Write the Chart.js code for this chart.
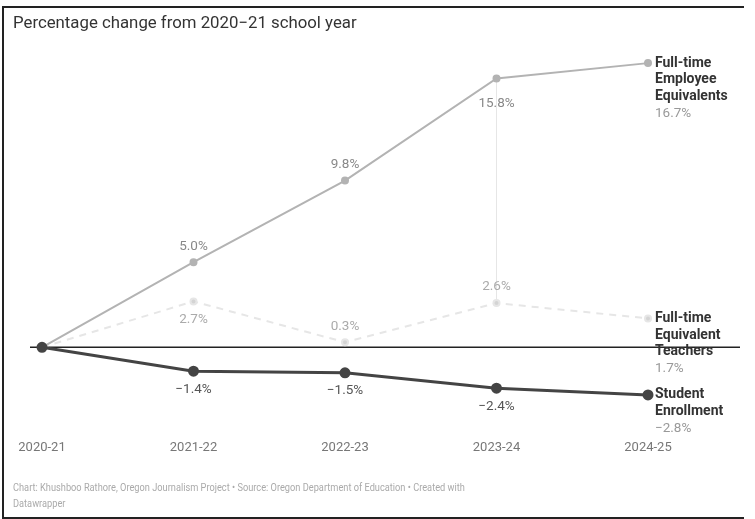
<!DOCTYPE html>
<html>
<head>
<meta charset="utf-8">
<script src="https://cdn.jsdelivr.net/npm/chart.js@4"></script>
<style>
  html, body { margin: 0; padding: 0; background: #fff; }
  body { width: 755px; height: 519px; position: relative; overflow: hidden; font-family: Roboto, sans-serif; }
  #frame { position: absolute; left: 2px; top: 6px; width: 740px; height: 509px;
    border-left: 2px solid #222; border-top: 2px solid #222; border-bottom: 2px solid #222; }
  #title { position: absolute; left: 13px; top: 12px; font-size: 16.8px; color: #333; }
  #footer { position: absolute; left: 13px; top: 480px; width: 565px; font-size: 11px; line-height: 16px; color: #aaa;
    transform: scaleX(0.84); transform-origin: left top; }
  #wrap { position: absolute; left: 0; top: 0; width: 755px; height: 519px; }
</style>
</head>
<body>
<div id="frame"></div>
<div id="wrap"><canvas id="chart"></canvas></div>
<div id="title">Percentage change from 2020−21 school year</div>
<div id="footer">Chart: Khushboo Rathore, Oregon Journalism Project • Source: Oregon Department of Education • Created with Datawrapper</div>
<script>
const categories = ["2020-21", "2021-22", "2022-23", "2023-24", "2024-25"];
const employeeValues = [0, 5.0, 9.8, 15.8, 16.7];
const teacherValues = [0, 2.7, 0.3, 2.6, 1.7];
const enrollmentValues = [0, -1.4, -1.5, -2.4, -2.8];
const employeeName = ["Full-time", "Employee", "Equivalents"];
const teacherName = ["Full-time", "Equivalent", "Teachers"];
const enrollmentName = ["Student", "Enrollment"];

function fmt(v) {
  return (v < 0 ? "\u2212" : "") + Math.abs(v).toFixed(1) + "%";
}

// zero baseline + faint connector at 2023-24
const baseline = {
  id: "baseline",
  beforeDatasetsDraw(chart) {
    const ctx = chart.ctx, y = chart.scales.y, x = chart.scales.x;
    const y0 = y.getPixelForValue(0);
    ctx.save();
    ctx.strokeStyle = "#e6e6e6";
    ctx.lineWidth = 1;
    const xi = x.getPixelForValue(3);
    ctx.beginPath();
    ctx.moveTo(xi, y.getPixelForValue(employeeValues[3]));
    ctx.lineTo(xi, y.getPixelForValue(teacherValues[3]));
    ctx.stroke();
    ctx.strokeStyle = "#222";
    ctx.lineWidth = 1.5;
    ctx.beginPath();
    ctx.moveTo(chart.chartArea.left - 12, y0);
    ctx.lineTo(chart.width - 15, y0);
    ctx.stroke();
    ctx.restore();
  }
};

// value labels and end labels
const offsets = { above: -16, below: 18, farBelow: 25 };
const labels = {
  id: "labels",
  afterDatasetsDraw(chart) {
    const ctx = chart.ctx;
    ctx.save();
    ctx.textBaseline = "middle";
    chart.data.datasets.forEach((ds, di) => {
      const pts = chart.getDatasetMeta(di).data;
      ctx.font = "13.5px Roboto";
      ctx.textAlign = "center";
      ctx.fillStyle = ds.labelColor;
      for (let i = 1; i < pts.length - 1; i++) {
        ctx.fillText(fmt(ds.data[i]), pts[i].x, pts[i].y + offsets[ds.labelPos[i]]);
      }
      const last = pts[pts.length - 1];
      ctx.textAlign = "left";
      let ly = last.y;
      ctx.font = "bold 14px Roboto";
      ctx.fillStyle = "#333";
      ds.endName.forEach(line => {
        ctx.fillText(line, last.x + 7, ly);
        ly += 16.8;
      });
      ctx.font = "13.5px Roboto";
      ctx.fillStyle = "#999";
      ctx.fillText(fmt(ds.data[ds.data.length - 1]), last.x + 7, ly);
    });
    ctx.restore();
  }
};

new Chart(document.getElementById("chart"), {
  type: "line",
  data: {
    labels: categories,
    datasets: [
      {
        label: "Student Enrollment",
        data: enrollmentValues,
        borderColor: "#444",
        backgroundColor: "#444",
        borderWidth: 3,
        pointRadius: 4,
        pointHoverRadius: 4,
        labelColor: "#555",
        labelPos: ["", "below", "below", "below", ""],
        endName: enrollmentName,
        order: 1,
      },
      {
        label: "Full-time Employee Equivalents",
        data: employeeValues,
        borderColor: "#b3b3b3",
        backgroundColor: "#b3b3b3",
        borderWidth: 2,
        pointRadius: 3,
        pointHoverRadius: 3,
        labelColor: "#888",
        labelPos: ["", "above", "above", "farBelow", ""],
        endName: employeeName,
        order: 2,
      },
      {
        label: "Full-time Equivalent Teachers",
        data: teacherValues,
        borderColor: "#e6e6e6",
        backgroundColor: "#d4d4d4",
        borderWidth: 2,
        borderDash: [7, 6],
        pointRadius: 3,
        pointHoverRadius: 3,
        labelColor: "#aaa",
        labelPos: ["", "below", "above", "above", ""],
        endName: teacherName,
        order: 3,
      },
    ],
  },
  options: {
    responsive: true,
    maintainAspectRatio: false,
    animation: false,
    layout: { autoPadding: false, padding: { left: 42, right: 107, top: 41, bottom: 38 } },
    plugins: {
      legend: { display: false },
      tooltip: { enabled: false },
    },
    scales: {
      x: {
        offset: false,
        grid: { display: false, drawTicks: false },
        border: { display: false },
        ticks: {
          color: "#777",
          font: { family: "Roboto", size: 13 },
          padding: 25,
          maxRotation: 0,
        },
        afterFit(scale) {
          scale.paddingLeft = 0;
          scale.paddingRight = 0;
        },
      },
      y: {
        display: false,
        min: -4,
        max: 18,
      },
    },
  },
  plugins: [baseline, labels],
});
</script>
</body>
</html>
